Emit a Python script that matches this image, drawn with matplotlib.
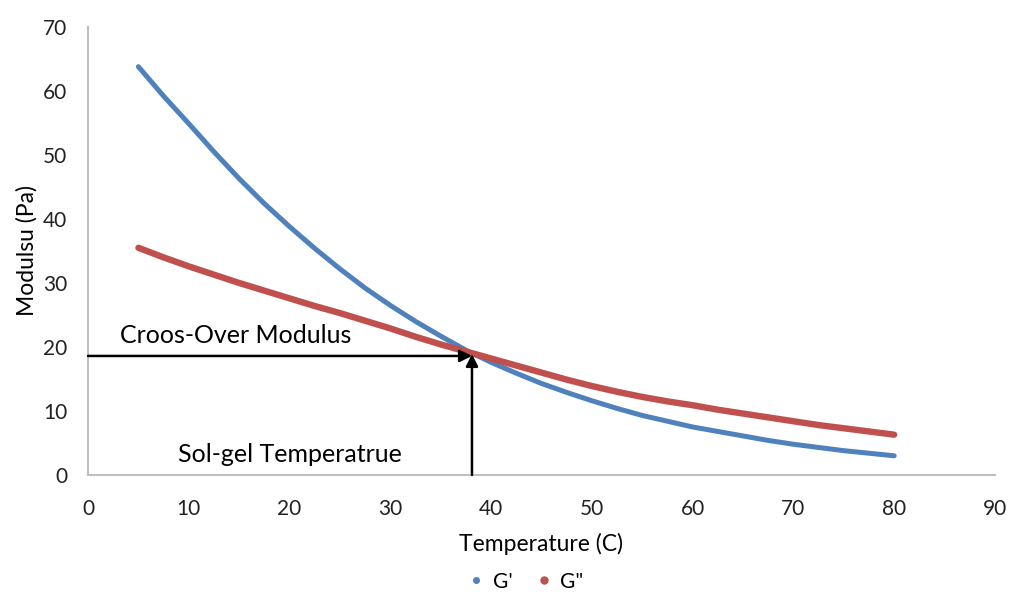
import matplotlib
matplotlib.use("Agg")
import matplotlib.pyplot as plt
from matplotlib.lines import Line2D

plt.rcParams['font.family'] = ['Lato', 'DejaVu Sans']

# temperature (C)
temperature = [5, 7.5, 10, 12.5, 15, 17.5, 20, 22.5, 25, 27.5, 30, 32.5, 35, 37.5, 40,
               42.5, 45, 47.5, 50, 52.5, 55, 57.5, 60, 62.5, 65, 67.5, 70, 72.5, 75, 77.5, 80]
# storage modulus G' (Pa)
g_storage = [63.8, 59.2, 54.9, 50.5, 46.3, 42.4, 38.8, 35.4, 32.2, 29.2, 26.5, 24.0, 21.7, 19.5, 17.6,
             15.9, 14.3, 12.9, 11.6, 10.4, 9.3, 8.4, 7.5, 6.8, 6.1, 5.4, 4.8, 4.3, 3.8, 3.4, 3.0]
# loss modulus G'' (Pa)
g_loss = [35.5, 34.0, 32.6, 31.3, 30.0, 28.8, 27.6, 26.4, 25.3, 24.1, 22.9, 21.6, 20.4, 19.3, 18.2,
          17.1, 16.0, 14.9, 13.9, 13.0, 12.2, 11.5, 10.9, 10.2, 9.6, 9.0, 8.4, 7.8, 7.3, 6.8, 6.3]

cross_temp = 38.1
cross_mod = 18.6

blue = '#4f81bd'
red = '#c0504d'

fig = plt.figure(figsize=(10.13, 6.04), dpi=100)
ax = fig.add_axes([0.0869, 0.2136, 0.8953, 0.7417])

ax.plot(temperature, g_storage, color=blue, lw=3.6, solid_capstyle='round', solid_joinstyle='round')
ax.plot(temperature, g_loss, color=red, lw=4.6, solid_capstyle='round', solid_joinstyle='round')

# cross-over arrows
ax.annotate('', xy=(cross_temp, cross_mod), xytext=(0, cross_mod),
            arrowprops=dict(arrowstyle='-|>', color='black', lw=1.8,
                            mutation_scale=18, shrinkA=0, shrinkB=0))
ax.annotate('', xy=(cross_temp, cross_mod + 0.3), xytext=(cross_temp, 0),
            arrowprops=dict(arrowstyle='-|>', color='black', lw=1.8,
                            mutation_scale=18, shrinkA=0, shrinkB=0))
ax.text(3.2, 20.6, 'Croos-Over Modulus', fontsize=18)
ax.text(8.9, 2.0, 'Sol-gel Temperatrue', fontsize=18)

ax.set_xlim(0, 90)
ax.set_ylim(0, 70)
ax.set_xticks(range(0, 91, 10))
ax.set_yticks(range(0, 71, 10))
ax.tick_params(length=0, labelsize=15, colors='#222222')
ax.tick_params(axis='x', pad=17)
ax.tick_params(axis='y', pad=15)
for s in ['top', 'right']:
    ax.spines[s].set_visible(False)
for s in ['left', 'bottom']:
    ax.spines[s].set_color('#bfbfbf')
    ax.spines[s].set_linewidth(1.5)

ax.set_xlabel('Temperature (C)', fontsize=16.5, labelpad=10)
ax.set_ylabel('Modulsu (Pa)', fontsize=16.5, labelpad=4)

handles = [Line2D([], [], ls='', marker='o', ms=4, color=blue),
           Line2D([], [], ls='', marker='o', ms=5, color=red)]
fig.legend(handles, ["G'", 'G"'], loc='lower center', bbox_to_anchor=(0.52, 0.0),
           ncol=2, frameon=False, fontsize=15, handlelength=0.6,
           handletextpad=0.5, columnspacing=1.2, borderpad=0.1)

fig.savefig('out.png', dpi=100)
